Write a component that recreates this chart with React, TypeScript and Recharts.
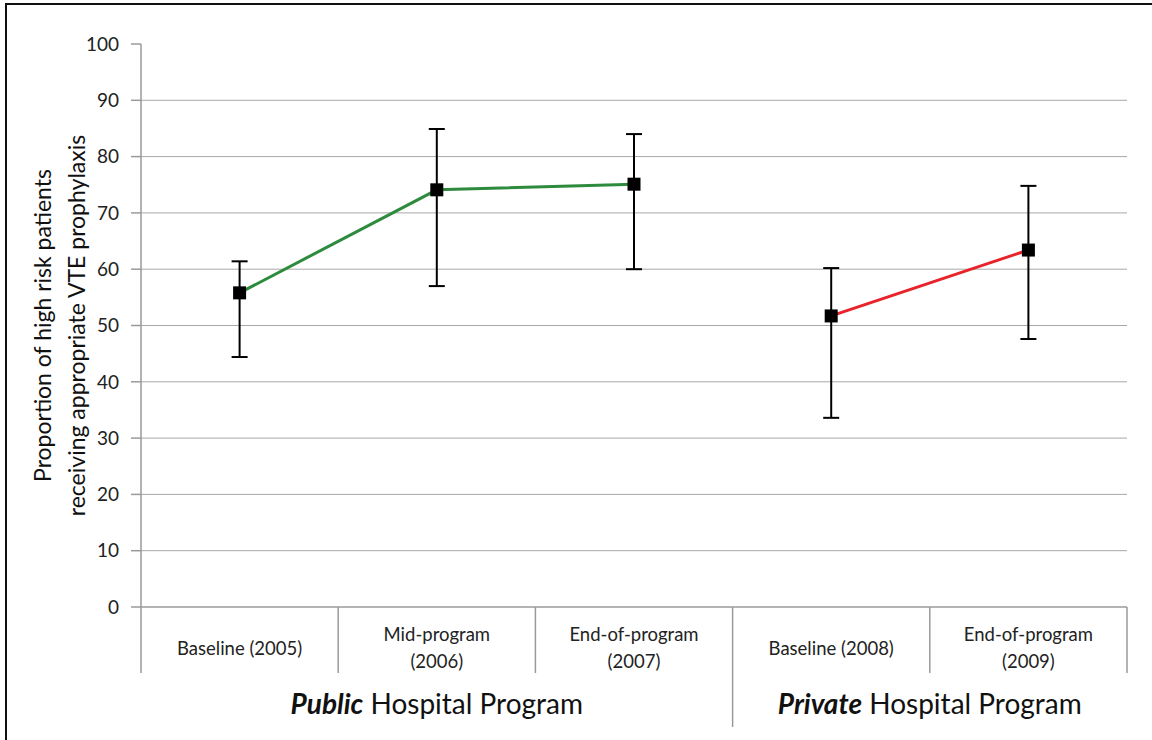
import React from 'react';
import { LineChart, Line, XAxis, YAxis, CartesianGrid, ErrorBar } from 'recharts';

const categories = ['Baseline (2005)', 'Mid-program\n(2006)', 'End-of-program\n(2007)', 'Baseline (2008)', 'End-of-program\n(2009)'];
const publicValues: (number | null)[] = [55.8, 74.1, 75.1, null, null];
const publicLow: (number | null)[] = [44.4, 57.0, 60.0, null, null];
const publicHigh: (number | null)[] = [61.4, 84.9, 84.0, null, null];
const privateValues: (number | null)[] = [null, null, null, 51.7, 63.4];
const privateLow: (number | null)[] = [null, null, null, 33.6, 47.6];
const privateHigh: (number | null)[] = [null, null, null, 60.2, 74.8];
const yTicks = [0, 10, 20, 30, 40, 50, 60, 70, 80, 90, 100];
const gridValues = [10, 20, 30, 40, 50, 60, 70, 80, 90];

const data = categories.map((name, i) => ({
  name,
  pub: publicValues[i],
  pubErr: publicValues[i] != null ? [publicValues[i]! - publicLow[i]!, publicHigh[i]! - publicValues[i]!] : undefined,
  priv: privateValues[i],
  privErr: privateValues[i] != null ? [privateValues[i]! - privateLow[i]!, privateHigh[i]! - privateValues[i]!] : undefined,
}));

const W = 1152;
const H = 740;
const M = { top: 44, right: 25, bottom: 0, left: 0 };
const Y_AXIS_W = 141;
const X_AXIS_H = 133;
const BAND = (W - M.left - M.right - Y_AXIS_W) / categories.length;
const FONT = 'Lato, "Open Sans", sans-serif';
const SEP = '#9a9a9a';
const CAT_FS = 18.5;

const XTick = (props: any) => {
  const { x, y, payload, index } = props;
  const half = BAND / 2;
  const lines = String(payload.value).split('\n');
  const els: React.ReactNode[] = [];
  const sepLen = index === 3 ? 120 : 66;
  els.push(<line key="l" x1={x - half} x2={x - half} y1={y} y2={y + sepLen} stroke={SEP} strokeWidth={1.5} />);
  if (index === categories.length - 1) {
    els.push(<line key="r" x1={x + half} x2={x + half} y1={y} y2={y + 66} stroke={SEP} strokeWidth={1.5} />);
  }
  if (lines.length === 1) {
    els.push(<text key="t" x={x} y={y + 41} textAnchor="middle" dominantBaseline="central" fontSize={CAT_FS} fill="#222" fontFamily={FONT}>{lines[0]}</text>);
  } else {
    els.push(<text key="t1" x={x} y={y + 27} textAnchor="middle" dominantBaseline="central" fontSize={CAT_FS} fill="#222" fontFamily={FONT}>{lines[0]}</text>);
    els.push(<text key="t2" x={x} y={y + 54} textAnchor="middle" dominantBaseline="central" fontSize={CAT_FS} fill="#222" fontFamily={FONT}>{lines[1]}</text>);
  }
  if (index === 1) {
    els.push(
      <text key="g" x={x} y={y + 96} textAnchor="middle" dominantBaseline="central" fontSize={28} fill="#111" fontFamily={FONT}>
        <tspan fontWeight="bold" fontStyle="italic">Public</tspan> Hospital Program
      </text>
    );
  }
  if (index === 3) {
    els.push(
      <text key="g" x={x + half} y={y + 96} textAnchor="middle" dominantBaseline="central" fontSize={28} fill="#111" fontFamily={FONT}>
        <tspan fontWeight="bold" fontStyle="italic">Private</tspan> Hospital Program
      </text>
    );
  }
  return <g>{els}</g>;
};

const YLabel = (props: any) => {
  const vb = props.viewBox || {};
  const cy = (vb.y ?? 44) + (vb.height ?? 563) / 2;
  return (
    <g>
      <text x={42} y={cy} transform={`rotate(-90, 42, ${cy})`} textAnchor="middle" dominantBaseline="central" fontSize={23} fill="#111" fontFamily={FONT}>
        Proportion of high risk patients
      </text>
      <text x={76} y={cy} transform={`rotate(-90, 76, ${cy})`} textAnchor="middle" dominantBaseline="central" fontSize={23} fill="#111" fontFamily={FONT}>
        receiving appropriate VTE prophylaxis
      </text>
    </g>
  );
};

const SquareDot = (props: any) => {
  const { cx, cy, index } = props;
  if (cx == null || cy == null || isNaN(cy)) return <g key={`d${index}`} />;
  return <rect key={`d${index}`} x={cx - 6.5} y={cy - 6.5} width={13} height={13} fill="#000" />;
};

export default function App() {
  return (
    <div style={{ position: 'absolute', left: 0, top: 0, width: W, height: H, overflow: 'hidden', background: '#fff' }}>
      <div style={{ position: 'absolute', left: 5, top: 3, width: W + 50, height: H + 50, border: '2px solid #111', boxSizing: 'border-box' }} />
      <div style={{ position: 'absolute', left: 0, top: 0 }}>
        <LineChart width={W} height={H} data={data} margin={M}>
          <CartesianGrid horizontal vertical={false} horizontalValues={gridValues} stroke="#a8a8a8" strokeWidth={1} />
          <XAxis
            dataKey="name"
            scale="band"
            height={X_AXIS_H}
            tickLine={false}
            tickSize={0}
            tickMargin={0}
            axisLine={{ stroke: SEP, strokeWidth: 1.5 }}
            tick={<XTick />}
            interval={0}
          />
          <YAxis
            domain={[0, 100]}
            ticks={yTicks}
            width={Y_AXIS_W}
            tickSize={10}
            tickMargin={12}
            tickLine={{ stroke: SEP, strokeWidth: 1.5 }}
            axisLine={{ stroke: SEP, strokeWidth: 1.5 }}
            tick={{ fill: '#222', fontSize: 19, fontFamily: FONT }}
            interval={0}
            label={<YLabel />}
          />
          <Line dataKey="pub" stroke="#2e8b3e" strokeWidth={3} dot={<SquareDot />} activeDot={false} isAnimationActive={false} connectNulls={false}>
            <ErrorBar dataKey="pubErr" width={8} stroke="#000" strokeWidth={2} direction="y" />
          </Line>
          <Line dataKey="priv" stroke="#e8232b" strokeWidth={3} dot={<SquareDot />} activeDot={false} isAnimationActive={false} connectNulls={false}>
            <ErrorBar dataKey="privErr" width={8} stroke="#000" strokeWidth={2} direction="y" />
          </Line>
        </LineChart>
      </div>
    </div>
  );
}
